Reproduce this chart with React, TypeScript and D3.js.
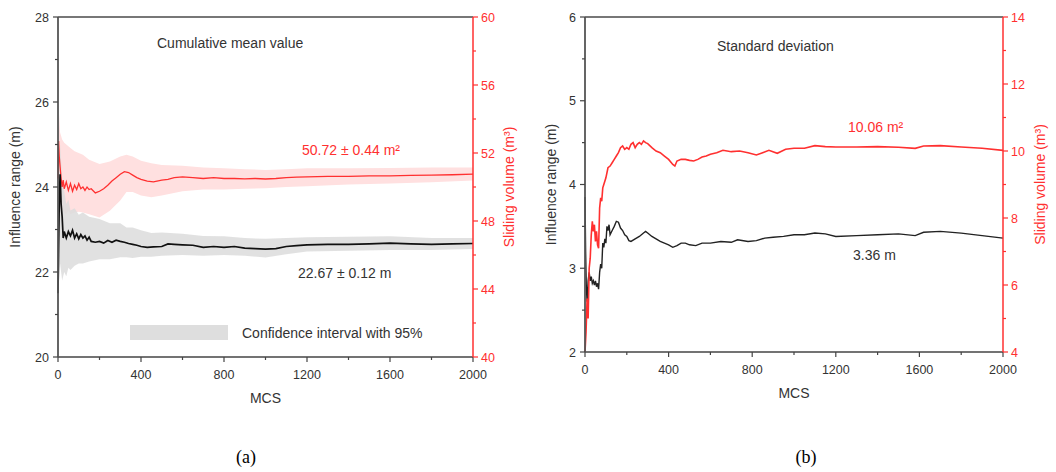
import React from "react";
import * as d3 from "d3";

// ---------- Panel (a): cumulative mean ----------
const mcsMeanA = [0, 3, 6, 10, 15, 20, 25, 30, 40, 50, 60, 70, 80, 90, 100, 110, 120, 130, 140, 150, 160, 180, 200, 220, 240, 260, 280, 300, 320, 340, 360, 380, 400, 430, 460, 500, 530, 560, 600, 650, 700, 750, 800, 850, 900, 950, 1000, 1050, 1100, 1150, 1200, 1300, 1400, 1500, 1600, 1700, 1800, 1900, 2000];
const rangeMeanA = [21.5, 22.6, 23.6, 24.3, 23.6, 23.3, 22.8, 22.95, 22.8, 22.95, 22.85, 22.98, 22.8, 22.9, 22.78, 22.88, 22.8, 22.85, 22.75, 22.82, 22.72, 22.7, 22.72, 22.68, 22.74, 22.7, 22.75, 22.72, 22.7, 22.67, 22.65, 22.63, 22.6, 22.58, 22.59, 22.6, 22.66, 22.65, 22.64, 22.63, 22.58, 22.6, 22.58, 22.6, 22.56, 22.55, 22.54, 22.55, 22.6, 22.62, 22.64, 22.65, 22.65, 22.66, 22.68, 22.66, 22.65, 22.66, 22.67];
const volMeanA = [50.5, 52.7, 51.8, 51.2, 50.5, 50.0, 50.4, 49.9, 50.3, 49.8, 50.2, 49.75, 50.1, 49.85, 50.2, 49.9, 50.0, 49.8, 50.0, 49.85, 49.9, 49.65, 49.75, 49.9, 50.1, 50.35, 50.55, 50.75, 50.9, 50.85, 50.7, 50.55, 50.45, 50.35, 50.3, 50.4, 50.45, 50.55, 50.6, 50.55, 50.5, 50.55, 50.5, 50.5, 50.48, 50.5, 50.47, 50.5, 50.55, 50.58, 50.6, 50.62, 50.63, 50.65, 50.66, 50.68, 50.7, 50.72, 50.76];

const mcsBandA = [0, 5, 10, 20, 30, 40, 50, 60, 80, 100, 120, 150, 200, 250, 300, 330, 360, 400, 450, 500, 600, 700, 800, 900, 1000, 1100, 1200, 1400, 1600, 1800, 2000];
const rangeHighA = [22.0, 24.6, 25.0, 24.2, 23.9, 23.6, 23.7, 23.45, 23.5, 23.35, 23.4, 23.3, 23.25, 23.15, 23.15, 23.05, 23.05, 22.98, 22.92, 22.93, 22.9, 22.85, 22.84, 22.8, 22.78, 22.8, 22.82, 22.83, 22.84, 22.8, 22.8];
const rangeLowA = [21.0, 21.8, 22.2, 21.8, 22.0, 21.9, 22.1, 22.05, 22.15, 22.2, 22.2, 22.25, 22.3, 22.3, 22.35, 22.35, 22.33, 22.36, 22.36, 22.38, 22.4, 22.38, 22.4, 22.38, 22.34, 22.42, 22.48, 22.5, 22.52, 22.52, 22.54];
const volHighA = [51.5, 54.3, 53.2, 52.8, 52.6, 52.5, 52.4, 52.3, 52.1, 52.0, 51.9, 51.6, 51.35, 51.5, 51.8, 51.9, 51.8, 51.55, 51.4, 51.3, 51.25, 51.15, 51.1, 51.05, 51.0, 51.05, 51.1, 51.1, 51.12, 51.15, 51.15];
const volLowA = [49.5, 50.4, 49.4, 48.7, 48.5, 48.4, 48.6, 48.4, 48.5, 48.55, 48.5, 48.4, 48.2, 48.6, 49.2, 49.7, 49.7, 49.5, 49.4, 49.5, 49.75, 49.85, 49.85, 49.9, 49.92, 50.0, 50.05, 50.15, 50.2, 50.28, 50.38];

// ---------- Panel (b): standard deviation ----------
const mcsStdB = [0, 3, 6, 10, 15, 20, 25, 30, 35, 40, 45, 50, 55, 60, 65, 70, 75, 80, 85, 90, 95, 100, 105, 110, 115, 120, 130, 140, 150, 160, 170, 180, 190, 200, 210, 220, 240, 260, 280, 290, 300, 320, 340, 360, 380, 400, 420, 440, 460, 480, 500, 530, 560, 600, 650, 700, 730, 780, 820, 860, 900, 950, 1000, 1050, 1100, 1150, 1200, 1300, 1400, 1500, 1580, 1620, 1700, 1800, 1900, 2000];
const rangeStdB = [3.85, 3.2, 2.8, 2.6, 2.85, 2.95, 2.85, 2.9, 2.82, 2.85, 2.8, 2.85, 2.78, 2.82, 2.75, 2.95, 3.05, 3.0, 3.3, 3.25, 3.35, 3.3, 3.5, 3.45, 3.52, 3.4, 3.45, 3.5, 3.56, 3.55, 3.48, 3.45, 3.4, 3.38, 3.33, 3.32, 3.35, 3.38, 3.42, 3.44, 3.42, 3.38, 3.35, 3.32, 3.3, 3.28, 3.25, 3.27, 3.3, 3.3, 3.28, 3.27, 3.3, 3.3, 3.32, 3.31, 3.34, 3.32, 3.33, 3.36, 3.37, 3.38, 3.4, 3.4, 3.42, 3.41, 3.38, 3.39, 3.4, 3.41, 3.39, 3.43, 3.44, 3.42, 3.39, 3.36];

const mcsVolB = [0, 5, 10, 15, 20, 25, 30, 35, 40, 45, 50, 55, 60, 65, 70, 75, 80, 85, 90, 100, 110, 120, 130, 140, 150, 160, 170, 180, 190, 200, 210, 220, 230, 240, 250, 260, 270, 280, 290, 300, 320, 340, 360, 380, 400, 420, 430, 440, 460, 480, 500, 520, 540, 560, 580, 600, 630, 660, 700, 740, 780, 820, 850, 880, 920, 960, 1000, 1050, 1100, 1150, 1200, 1300, 1400, 1500, 1580, 1620, 1700, 1800, 1900, 2000];
const volStdB = [4.0, 4.6, 5.6, 5.0, 6.5, 6.8, 7.5, 7.9, 7.6, 7.8, 7.3, 7.6, 7.2, 7.1, 8.3, 8.6, 8.5, 8.9, 9.0, 9.2, 9.5, 9.55, 9.65, 9.75, 9.85, 9.95, 10.1, 10.15, 10.05, 10.1, 10.05, 10.2, 10.25, 10.1, 10.2, 10.25, 10.2, 10.3, 10.25, 10.22, 10.1, 10.0, 9.95, 9.85, 9.75, 9.6, 9.55, 9.7, 9.75, 9.75, 9.72, 9.7, 9.75, 9.82, 9.85, 9.9, 9.95, 10.02, 9.98, 10.0, 9.95, 9.88, 9.95, 10.02, 9.93, 10.05, 10.08, 10.08, 10.16, 10.13, 10.12, 10.12, 10.13, 10.11, 10.08, 10.15, 10.16, 10.12, 10.08, 10.02];

const xTicks = [0, 400, 800, 1200, 1600, 2000];
const xMinor = [200, 600, 1000, 1400, 1800];
const yTicksA = [20, 22, 24, 26, 28];
const yMinorA = [21, 23, 25, 27];
const y2TicksA = [40, 44, 48, 52, 56, 60];
const y2MinorA = [42, 46, 50, 54, 58];
const yTicksB = [2, 3, 4, 5, 6];
const yMinorB = [2.5, 3.5, 4.5, 5.5];
const y2TicksB = [4, 6, 8, 10, 12, 14];
const y2MinorB = [5, 7, 9, 11, 13];

const FONT = "'Liberation Sans', Arial, sans-serif";
const RED = "#ff3030";
const DARK = "#333";

type PanelProps = {
  left: number; right: number; top: number; bottom: number;
  yDomain: [number, number]; y2Domain: [number, number];
  yTicks: number[]; yMinor: number[]; y2Ticks: number[]; y2Minor: number[];
  leftLabelX: number; rightLabelX: number;
  children: (x: d3.ScaleLinear<number, number>, y: d3.ScaleLinear<number, number>, y2: d3.ScaleLinear<number, number>) => React.ReactNode;
};

function Panel(p: PanelProps) {
  const x = d3.scaleLinear().domain([0, 2000]).range([p.left, p.right]);
  const y = d3.scaleLinear().domain(p.yDomain).range([p.bottom, p.top]);
  const y2 = d3.scaleLinear().domain(p.y2Domain).range([p.bottom, p.top]);
  const midY = (p.top + p.bottom) / 2;
  return (
    <g>
      {p.children(x, y, y2)}
      <line x1={p.left} x2={p.right} y1={p.top} y2={p.top} stroke="#777" strokeWidth={2.2} />
      <line x1={p.left} x2={p.right} y1={p.bottom} y2={p.bottom} stroke="#444" strokeWidth={1.5} />
      {xTicks.map((t) => (
        <g key={"xt" + t}>
          <line x1={x(t)} x2={x(t)} y1={p.bottom} y2={p.bottom + 5} stroke="#444" strokeWidth={1.2} />
          <text x={x(t)} y={p.bottom + 22} textAnchor="middle" fontSize={12.5} fill={DARK} fontFamily={FONT}>{t}</text>
        </g>
      ))}
      {xMinor.map((t) => (
        <line key={"xm" + t} x1={x(t)} x2={x(t)} y1={p.bottom} y2={p.bottom + 3} stroke="#444" strokeWidth={1.2} />
      ))}
      <text x={(p.left + p.right) / 2} y={p.bottom + 46} textAnchor="middle" fontSize={14} fill={DARK} fontFamily={FONT}>MCS</text>
      <line x1={p.left} x2={p.left} y1={p.top} y2={p.bottom} stroke="#555" strokeWidth={1.8} />
      {p.yTicks.map((t) => (
        <g key={"yt" + t}>
          <line x1={p.left - 5} x2={p.left} y1={y(t)} y2={y(t)} stroke="#444" strokeWidth={1.2} />
          <text x={p.left - 9} y={y(t) + 4.5} textAnchor="end" fontSize={12.5} fill={DARK} fontFamily={FONT}>{t}</text>
        </g>
      ))}
      {p.yMinor.map((t) => (
        <line key={"ym" + t} x1={p.left - 3} x2={p.left} y1={y(t)} y2={y(t)} stroke="#444" strokeWidth={1.2} />
      ))}
      <text transform={`translate(${p.leftLabelX},${midY}) rotate(-90)`} textAnchor="middle" fontSize={14} fill={DARK} fontFamily={FONT}>Influence range (m)</text>
      <line x1={p.right} x2={p.right} y1={p.top} y2={p.bottom} stroke={RED} strokeWidth={1.5} />
      {p.y2Ticks.map((t) => (
        <g key={"y2t" + t}>
          <line x1={p.right} x2={p.right + 5} y1={y2(t)} y2={y2(t)} stroke={RED} strokeWidth={1.2} />
          <text x={p.right + 8} y={y2(t) + 4.5} textAnchor="start" fontSize={12.5} fill={RED} fontFamily={FONT}>{t}</text>
        </g>
      ))}
      {p.y2Minor.map((t) => (
        <line key={"y2m" + t} x1={p.right} x2={p.right + 3} y1={y2(t)} y2={y2(t)} stroke={RED} strokeWidth={1.2} />
      ))}
      <text transform={`translate(${p.rightLabelX},${midY}) rotate(-90)`} textAnchor="middle" fontSize={14} fill={RED} fontFamily={FONT}>Sliding volume (m³)</text>
    </g>
  );
}

export default function App() {
  return (
    <svg width={1056} height={472} style={{ position: "absolute", left: 0, top: 0, background: "#fff" }}>
      <rect x={0} y={0} width={1056} height={472} fill="#fff" />
      <Panel left={58} right={473} top={17} bottom={357} yDomain={[20, 28]} y2Domain={[40, 60]}
        yTicks={yTicksA} yMinor={yMinorA} y2Ticks={y2TicksA} y2Minor={y2MinorA} leftLabelX={20} rightLabelX={514}>
        {(x, y, y2) => {
          const pink = d3.area<number>().x((_, i) => x(mcsBandA[i])).y0((_, i) => y2(volLowA[i])).y1((_, i) => y2(volHighA[i]));
          const gray = d3.area<number>().x((_, i) => x(mcsBandA[i])).y0((_, i) => y(rangeLowA[i])).y1((_, i) => y(rangeHighA[i]));
          const redLine = d3.line<number>().x((_, i) => x(mcsMeanA[i])).y((d) => y2(d));
          const blackLine = d3.line<number>().x((_, i) => x(mcsMeanA[i])).y((d) => y(d));
          return (
            <g>
              <path d={pink(volHighA) || ""} fill="#ffe0e0" />
              <path d={gray(rangeHighA) || ""} fill="#dcdcdc" fillOpacity={0.85} />
              <path d={redLine(volMeanA) || ""} fill="none" stroke={RED} strokeWidth={1.3} />
              <path d={blackLine(rangeMeanA) || ""} fill="none" stroke="#111" strokeWidth={1.7} />
              <text x={157} y={48} fontSize={14} fill={DARK} fontFamily={FONT}>Cumulative mean value</text>
              <text x={302} y={155} fontSize={14} fill={RED} fontFamily={FONT}>50.72 ± 0.44 m²</text>
              <text x={298} y={278} fontSize={14} fill={DARK} fontFamily={FONT}>22.67 ± 0.12 m</text>
              <rect x={130} y={325} width={98} height={15} fill="#dedede" />
              <text x={242} y={338} fontSize={14} fill={DARK} fontFamily={FONT}>Confidence interval with 95%</text>
            </g>
          );
        }}
      </Panel>
      <Panel left={585} right={1003} top={17} bottom={352} yDomain={[2, 6]} y2Domain={[4, 14]}
        yTicks={yTicksB} yMinor={yMinorB} y2Ticks={y2TicksB} y2Minor={y2MinorB} leftLabelX={556} rightLabelX={1045}>
        {(x, y, y2) => {
          const redLine = d3.line<number>().x((_, i) => x(mcsVolB[i])).y((d) => y2(d));
          const blackLine = d3.line<number>().x((_, i) => x(mcsStdB[i])).y((d) => y(d));
          return (
            <g>
              <path d={blackLine(rangeStdB) || ""} fill="none" stroke="#222" strokeWidth={1.4} />
              <path d={redLine(volStdB) || ""} fill="none" stroke={RED} strokeWidth={1.6} />
              <text x={717} y={51} fontSize={14} fill={DARK} fontFamily={FONT}>Standard deviation</text>
              <text x={848} y={132} fontSize={14} fill={RED} fontFamily={FONT}>10.06 m²</text>
              <text x={853} y={260} fontSize={14} fill={DARK} fontFamily={FONT}>3.36 m</text>
            </g>
          );
        }}
      </Panel>
      <text x={246} y={463} textAnchor="middle" fontSize={18} fill="#000" fontFamily="'Liberation Serif', 'Times New Roman', serif">(a)</text>
      <text x={806} y={463} textAnchor="middle" fontSize={18} fill="#000" fontFamily="'Liberation Serif', 'Times New Roman', serif">(b)</text>
    </svg>
  );
}
